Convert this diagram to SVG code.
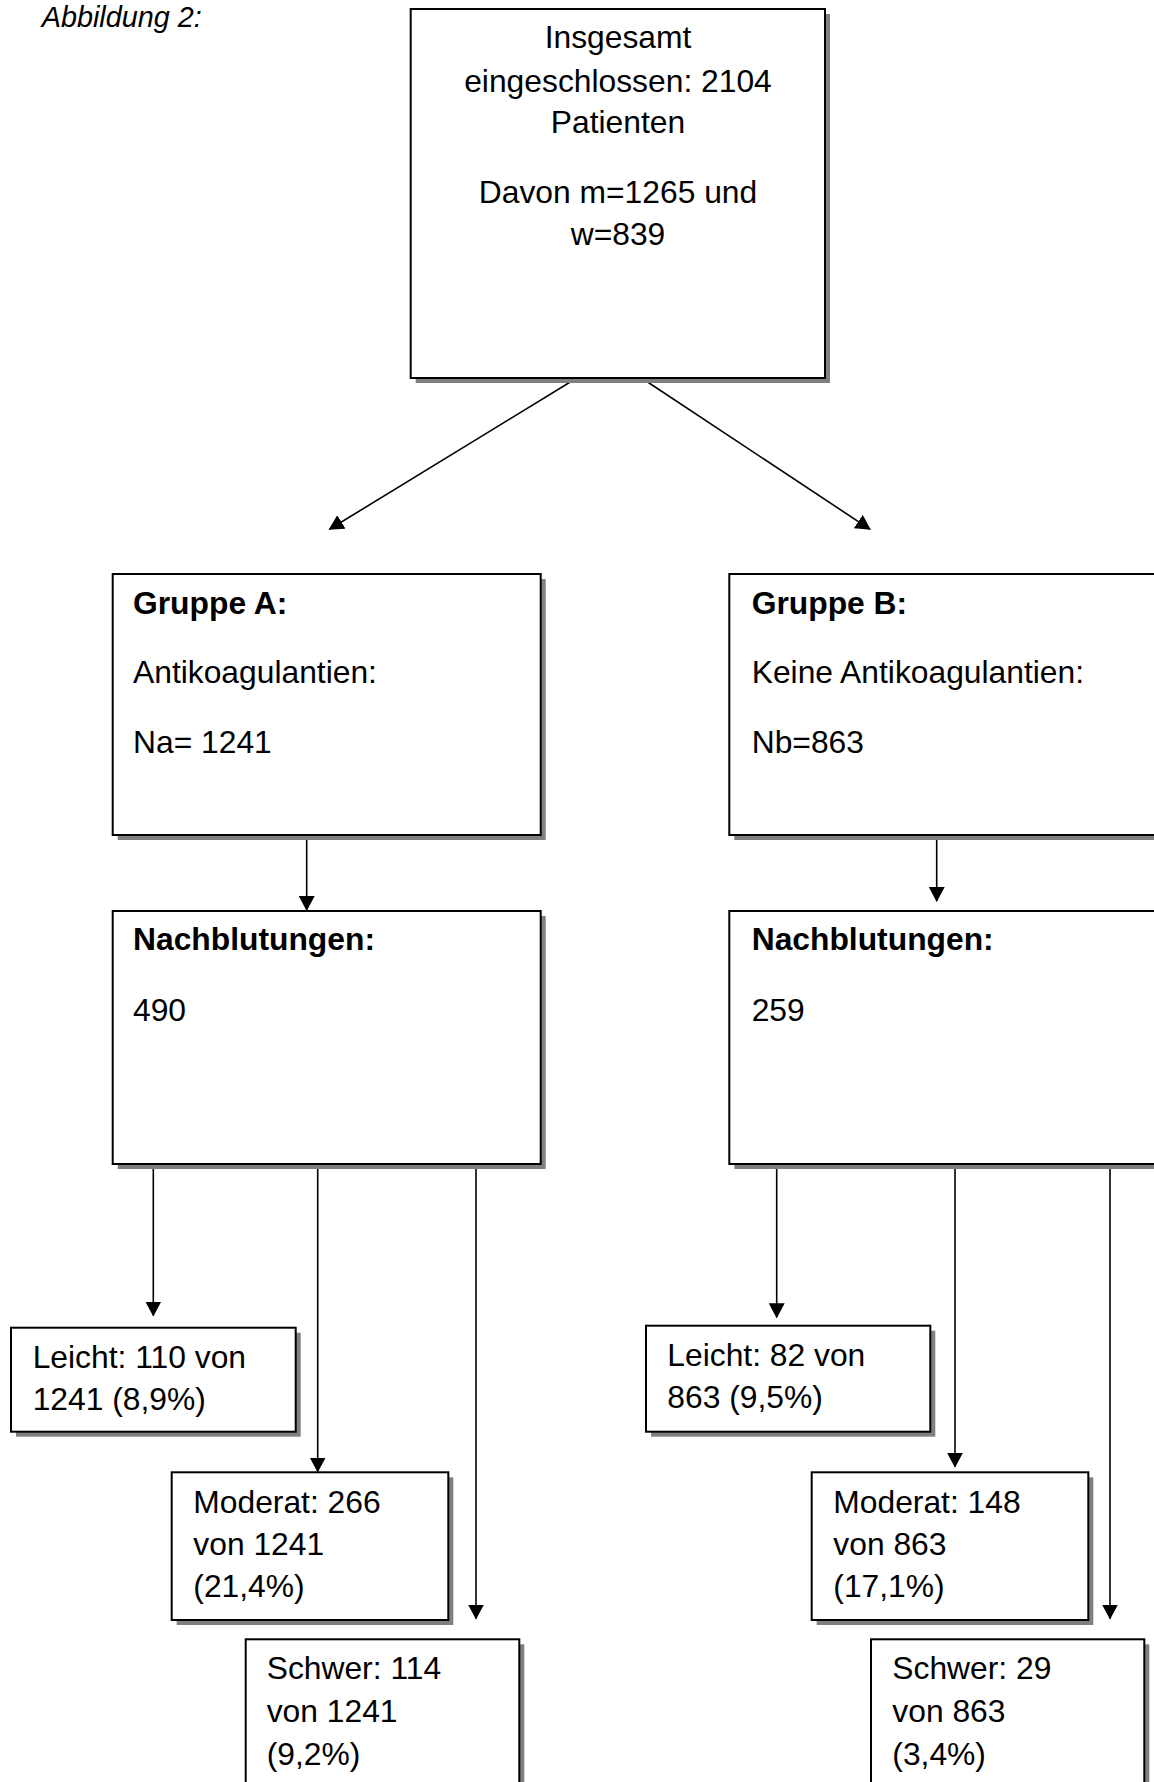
<svg xmlns="http://www.w3.org/2000/svg" width="1154" height="1782" viewBox="0 0 1154 1782">
<style>
text{font-family:"Liberation Sans",Arial,sans-serif;font-size:31.8px;fill:#000}
.b{font-weight:bold}
.c{text-anchor:middle}
.cap{font-style:italic;font-size:28.8px}
.box{fill:#fff;stroke:#000;stroke-width:2}
.sh{fill:#808080}
.con{stroke:#000;stroke-width:1.6;fill:none;marker-end:url(#ah)}
</style>
<defs>
<marker id="ah" viewBox="0 0 15 16" markerWidth="15" markerHeight="16" refX="14" refY="8" orient="auto" markerUnits="userSpaceOnUse">
<path d="M0,0 L15,8 L0,16 z" fill="#000"/>
</marker>
</defs>
<rect width="1154" height="1782" fill="#fff"/>
<text class="cap" x="41.7" y="27">Abbildung 2:</text>

<g id="connectors">
<line class="con" x1="585" y1="373" x2="329.5" y2="529.3"/>
<line class="con" x1="634" y1="373" x2="870" y2="529.3"/>
<line class="con" x1="306.7" y1="836" x2="306.7" y2="910"/>
<line class="con" x1="936.7" y1="836" x2="936.7" y2="901"/>
<line class="con" x1="153.3" y1="1165" x2="153.3" y2="1315.5"/>
<line class="con" x1="317.7" y1="1165" x2="317.7" y2="1471.5"/>
<line class="con" x1="476" y1="1165" x2="476" y2="1618.5"/>
<line class="con" x1="776.7" y1="1165" x2="776.7" y2="1317.3"/>
<line class="con" x1="955" y1="1165" x2="955" y2="1466.7"/>
<line class="con" x1="1110" y1="1165" x2="1110" y2="1618.5"/>
</g>

<g id="node-total">
<rect class="sh" x="415.7" y="14" width="414.3" height="369"/>
<rect class="box" x="410.7" y="9" width="414.3" height="369"/>
<text class="c" x="618" y="48.3">Insgesamt</text>
<text class="c" x="618" y="91.7">eingeschlossen: 2104</text>
<text class="c" x="618" y="133.3">Patienten</text>
<text class="c" x="618" y="202.5">Davon m=1265 und</text>
<text class="c" x="618" y="245">w=839</text>
</g>

<g id="node-gruppe-a">
<rect class="sh" x="117.7" y="579" width="428" height="261"/>
<rect class="box" x="112.7" y="574" width="428" height="261"/>
<text class="b" x="133" y="614.3">Gruppe A:</text>
<text x="133" y="683.3">Antikoagulantien:</text>
<text x="133" y="752.7">Na= 1241</text>
</g>

<g id="node-gruppe-b">
<rect class="sh" x="734.3" y="579" width="428" height="261"/>
<rect class="box" x="729.3" y="574" width="428" height="261"/>
<text class="b" x="751.7" y="614.3">Gruppe B:</text>
<text x="751.7" y="683.3">Keine Antikoagulantien:</text>
<text x="751.7" y="752.7">Nb=863</text>
</g>

<g id="node-nachblutungen-a">
<rect class="sh" x="117.7" y="916" width="428" height="253"/>
<rect class="box" x="112.7" y="911" width="428" height="253"/>
<text class="b" x="133" y="950">Nachblutungen:</text>
<text x="133" y="1020.7">490</text>
</g>

<g id="node-nachblutungen-b">
<rect class="sh" x="734.3" y="916" width="428" height="253"/>
<rect class="box" x="729.3" y="911" width="428" height="253"/>
<text class="b" x="751.7" y="950">Nachblutungen:</text>
<text x="751.7" y="1020.7">259</text>
</g>

<g id="node-leicht-a">
<rect class="sh" x="16" y="1332.7" width="284.7" height="104"/>
<rect class="box" x="11" y="1327.7" width="284.7" height="104"/>
<text x="32.7" y="1368">Leicht: 110 von</text>
<text x="32.7" y="1409.5">1241 (8,9%)</text>
</g>

<g id="node-moderat-a">
<rect class="sh" x="176.7" y="1477.3" width="276.6" height="147.7"/>
<rect class="box" x="171.7" y="1472.3" width="276.6" height="147.7"/>
<text x="193.3" y="1512.7">Moderat: 266</text>
<text x="193.3" y="1555">von 1241</text>
<text x="193.3" y="1597.3">(21,4%)</text>
</g>

<g id="node-schwer-a">
<rect class="sh" x="250.7" y="1644.3" width="273.6" height="160"/>
<rect class="box" x="245.7" y="1639.3" width="273.6" height="160"/>
<text x="266.7" y="1679.3">Schwer: 114</text>
<text x="266.7" y="1722.3">von 1241</text>
<text x="266.7" y="1765">(9,2%)</text>
</g>

<g id="node-leicht-b">
<rect class="sh" x="651" y="1330.7" width="284.3" height="106"/>
<rect class="box" x="646" y="1325.7" width="284.3" height="106"/>
<text x="667.3" y="1366">Leicht: 82 von</text>
<text x="667.3" y="1408.3">863 (9,5%)</text>
</g>

<g id="node-moderat-b">
<rect class="sh" x="816.7" y="1477.3" width="276.6" height="147.7"/>
<rect class="box" x="811.7" y="1472.3" width="276.6" height="147.7"/>
<text x="833.3" y="1512.7">Moderat: 148</text>
<text x="833.3" y="1555">von 863</text>
<text x="833.3" y="1597.3">(17,1%)</text>
</g>

<g id="node-schwer-b">
<rect class="sh" x="876" y="1644.3" width="273.3" height="160"/>
<rect class="box" x="871" y="1639.3" width="273.3" height="160"/>
<text x="892.3" y="1679.3">Schwer: 29</text>
<text x="892.3" y="1722.3">von 863</text>
<text x="892.3" y="1765">(3,4%)</text>
</g>
</svg>
